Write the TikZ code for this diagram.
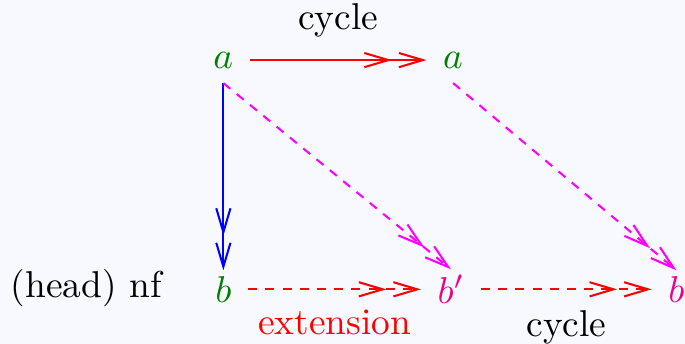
\documentclass[tikz,border=0pt]{standalone}
\usetikzlibrary{arrows.meta}
\definecolor{NodeGreen}{RGB}{0,128,0}
\definecolor{NodePink}{RGB}{236,0,140}
\definecolor{EdgeMagenta}{RGB}{255,0,255}
\definecolor{PaperLav}{RGB}{248,248,255}

\begin{document}
\begin{tikzpicture}[
  obj/.style={inner xsep=4.3pt,inner ysep=3.8pt},
  lowobj/.style={inner xsep=4.3pt,inner ysep=1.4pt},
  twohead/.style={line width=0.55pt,-{Straight Barb[length=6.4pt,width=3.8pt,sep=1.6pt]Straight Barb[length=6.4pt,width=3.8pt]}},
  dashy/.style={dash pattern=on 2.4pt off 2.2pt}]
\fill[PaperLav] (0,0) rectangle (6.44,-3.233);
\useasboundingbox (0,0) rectangle (6.44,-3.233);
\node[obj,NodeGreen] (a1) at (2.10,-0.565){$a$};
\node[obj,NodeGreen] (a2) at (4.26,-0.565){$a$};
\node[lowobj,NodeGreen] (b1) at (2.10,-2.72){$b$};
\node[lowobj,NodePink] (bp) at (4.24,-2.72){$b'$};
\node[lowobj,NodePink] (b2) at (6.36,-2.72){$b$};
\node[anchor=base] (nf) at (0.81,-2.80){(head) nf};
\draw[twohead,red] (a1.east) -- node[above=2.6pt,black] (cyc1){cycle} (a2.west);
\draw[twohead,blue] (a1.south) -- (b1.north);
\draw[twohead,EdgeMagenta,dashy] (a1.south) -- (bp.north);
\draw[twohead,EdgeMagenta,dashy] (a2.south) -- (b2.north);
\draw[twohead,red,dashy] (b1.east) -- node[below=1.8pt] (ext){extension} (bp.west);
\draw[twohead,red,dashy] (bp.east) -- node[below=2pt,black] (cyc2){cycle} (b2.west);
\end{tikzpicture}
\end{document}
